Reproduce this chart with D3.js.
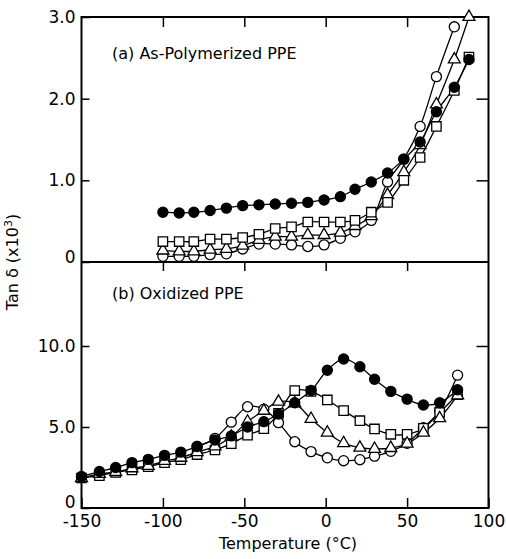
<!DOCTYPE html>
<html>
<head>
<meta charset="utf-8">
<script src="https://cdn.jsdelivr.net/npm/d3@7/dist/d3.min.js"></script>
<style>
  body { margin: 0; background: #fff; }
  text { font-family: "DejaVu Sans", sans-serif; fill: #000; }
</style>
</head>
<body>
<svg id="chart" width="506" height="559"></svg>
<script>
// (a) as-polymerized PPE, temperatures in degC
var tempsA = [-100, -90, -81, -71, -61, -51, -41, -31, -21, -11, -1, 9, 18, 28, 38, 48, 58, 68, 79, 88];
var filledA = [0.61, 0.60, 0.61, 0.63, 0.66, 0.69, 0.70, 0.71, 0.72, 0.73, 0.76, 0.80, 0.89, 0.98, 1.09, 1.26, 1.47, 1.84, 2.14, 2.48];
var circleA = [0.07, 0.07, 0.07, 0.09, 0.10, 0.16, 0.22, 0.22, 0.21, 0.19, 0.21, 0.29, 0.37, 0.51, 0.98, 1.26, 1.66, 2.27, 2.88];
var squareA = [0.25, 0.25, 0.25, 0.28, 0.28, 0.30, 0.34, 0.41, 0.43, 0.49, 0.49, 0.49, 0.51, 0.61, 0.73, 1.00, 1.28, 1.66, 2.10, 2.51];
var triangleA = [0.14, 0.13, 0.13, 0.15, 0.16, 0.20, 0.27, 0.31, 0.31, 0.33, 0.33, 0.36, 0.44, 0.56, 0.82, 1.10, 1.43, 1.93, 2.48, 3.00];

// (b) oxidized PPE
var tempsB = [-150, -139, -129, -119, -109, -99, -89, -79, -68, -58, -48, -38, -29, -19, -9, 1, 11, 21, 30, 40, 50, 60, 70, 81];
var filledB = [1.95, 2.25, 2.50, 2.80, 3.00, 3.25, 3.45, 3.80, 4.20, 4.45, 5.00, 5.33, 5.80, 6.50, 7.25, 8.50, 9.20, 8.72, 7.95, 7.20, 6.72, 6.36, 6.50, 7.30];
var circleB = [3.80, 4.30, 5.30, 6.25, 6.10, 5.27, 4.09, 3.48, 3.10, 2.92, 2.98, 3.20, 3.50, 4.00, 4.95, 6.00, 8.20]; // from -79
var squareB = [1.85, 2.00, 2.20, 2.35, 2.55, 2.80, 2.98, 3.30, 3.58, 3.97, 4.50, 4.90, 5.84, 7.25, 7.20, 6.67, 6.01, 5.39, 4.88, 4.55, 4.55, 4.92, 5.90, 7.00];
var triangleB = [1.85, 2.10, 2.22, 2.45, 2.60, 2.90, 3.10, 3.45, 3.80, 4.40, 5.33, 6.00, 6.56, 6.46, 5.50, 4.65, 4.00, 3.72, 3.65, 3.70, 3.97, 4.65, 5.54, 6.95];

var xTicks = [-150, -100, -50, 0, 50, 100];
var innerTicks = [-100, -50, 0, 50];
var yTicksA = [0, 1, 2, 3];
var yTicksB = [0, 5, 10];

var svg = d3.select("#chart");

var x = d3.scaleLinear().domain([-150, 100]).range([81.5, 488.5]),
    yA = d3.scaleLinear().domain([0, 3]).range([262, 17]),
    yB = d3.scaleLinear().domain([0, 10]).range([508, 346]);

function fmtY(d) {
    return d === 0 ? "0" : d3.format(".1f")(d);
}

function pairs(temps, vals) {
    return vals.map(function(v, i) { return {t: temps[i], v: v}; });
}

function drawPanel(y, series) {
    var g = svg.append("g");
    var line = d3.line()
        .curve(d3.curveCatmullRom.alpha(0.5))
        .x(function(d) { return x(d.t); })
        .y(function(d) { return y(d.v); });

    // lines first so the open markers sit on top of them
    series.forEach(function(s) {
        g.append("path")
            .attr("d", line(s.data))
            .attr("fill", "none")
            .attr("stroke", "#000")
            .attr("stroke-width", 1.3);
    });

    series.forEach(function(s) {
        var sym = d3.symbol()
            .type(s.shape == "square" ? d3.symbolSquare : s.shape == "triangle" ? d3.symbolTriangle : d3.symbolCircle)
            .size(s.shape == "square" ? 88 : s.shape == "triangle" ? 62 : 80);
        g.selectAll(null)
            .data(s.data)
            .enter().append("path")
            .attr("transform", function(d) { return "translate(" + x(d.t) + "," + y(d.v) + ")"; })
            .attr("d", sym)
            .attr("fill", s.shape == "filled" ? "#000" : "#fff")
            .attr("stroke", "#000")
            .attr("stroke-width", 1.3);
    });
}

// frame
svg.append("rect")
    .attr("x", 81.5).attr("y", 17)
    .attr("width", 407).attr("height", 491)
    .attr("fill", "none").attr("stroke", "#000").attr("stroke-width", 2);
svg.append("line")
    .attr("x1", 81.5).attr("x2", 488.5)
    .attr("y1", 262).attr("y2", 262)
    .attr("stroke", "#000").attr("stroke-width", 2);

function tickAxis(axis, transform) {
    var a = svg.append("g").attr("transform", transform).call(axis);
    a.select(".domain").remove();
    a.selectAll("line").attr("stroke-width", 1.5);
    a.selectAll("text").style("font-size", "17px").attr("font-family", null);
    return a;
}

// x axes
tickAxis(d3.axisBottom(x).tickValues(xTicks).tickSize(-10).tickPadding(7)
    .tickFormat(function(d) { return String(d); }), "translate(0,508)");
tickAxis(d3.axisBottom(x).tickValues(innerTicks).tickSize(9).tickFormat(""), "translate(0,262)");
tickAxis(d3.axisTop(x).tickValues(innerTicks).tickSize(-10).tickFormat(""), "translate(0,17)");

// y axes; the "0" labels sit a little above their line, as in the print
var la = tickAxis(d3.axisLeft(yA).tickValues(yTicksA).tickSize(-8).tickPadding(6).tickFormat(fmtY), "translate(81.5,0)");
var lb = tickAxis(d3.axisLeft(yB).tickValues(yTicksB).tickSize(-8).tickPadding(6).tickFormat(fmtY), "translate(81.5,0)");
la.selectAll("text").filter(function(d) { return d === 0; }).attr("dy", "0.05em");
lb.selectAll("text").filter(function(d) { return d === 0; }).attr("dy", "-0.05em");
tickAxis(d3.axisRight(yA).tickValues([1, 2]).tickSize(-12).tickFormat(""), "translate(488.5,0)");
tickAxis(d3.axisRight(yB).tickValues([5, 10]).tickSize(-12).tickFormat(""), "translate(488.5,0)");

drawPanel(yA, [
    {shape: "circle", data: pairs(tempsA, circleA)},
    {shape: "triangle", data: pairs(tempsA, triangleA)},
    {shape: "square", data: pairs(tempsA, squareA)},
    {shape: "filled", data: pairs(tempsA, filledA)}
]);

drawPanel(yB, [
    {shape: "circle", data: pairs(tempsB.slice(7), circleB)},
    {shape: "square", data: pairs(tempsB, squareB)},
    {shape: "triangle", data: pairs(tempsB, triangleB)},
    {shape: "filled", data: pairs(tempsB, filledB)}
]);

// panel titles
svg.append("text").attr("x", 112).attr("y", 59).style("font-size", "16px").text("(a) As-Polymerized PPE");
svg.append("text").attr("x", 112).attr("y", 299).style("font-size", "16px").text("(b) Oxidized PPE");

// axis titles
svg.append("text")
    .attr("x", 288).attr("y", 549)
    .attr("text-anchor", "middle")
    .style("font-size", "16px")
    .text("Temperature (°C)");

var yl = svg.append("text")
    .attr("transform", "translate(18,262) rotate(-90)")
    .attr("text-anchor", "middle")
    .style("font-size", "16px");
yl.append("tspan").text("Tan δ (x10");
yl.append("tspan").attr("dy", -6).style("font-size", "11px").text("3");
yl.append("tspan").attr("dy", 6).text(")");
</script>
</body>
</html>
